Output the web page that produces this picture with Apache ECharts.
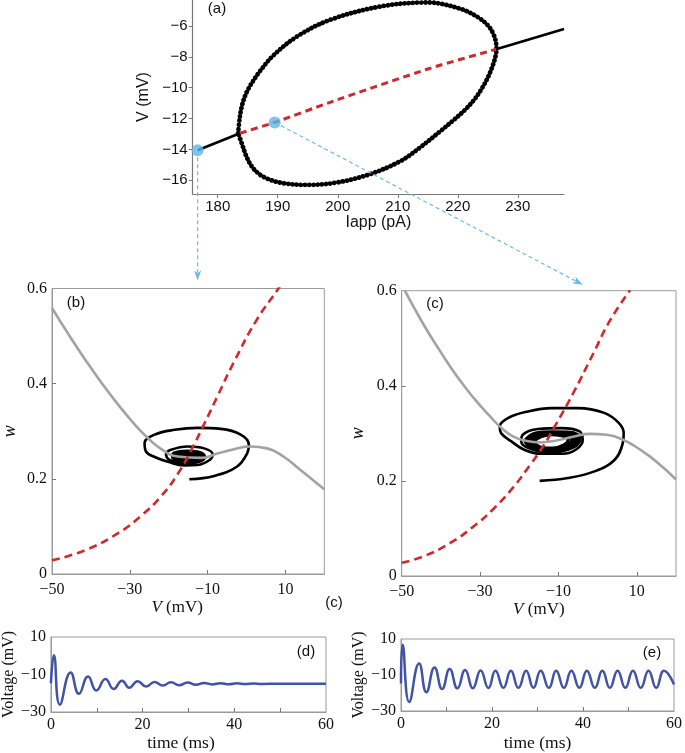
<!DOCTYPE html>
<html><head><meta charset="utf-8">
<script src="https://cdn.jsdelivr.net/npm/echarts@6.0.0/dist/echarts.min.js"></script>
<style>html,body{margin:0;padding:0;background:#fff}#c{width:685px;height:753px}</style>
</head><body><div id="c"></div>
<script>
// ---------- panel (a): bifurcation diagram ----------
const aXTicks = [180, 190, 200, 210, 220, 230];
const aYTicks = [-16, -14, -12, -10, -8, -6];
const aLimitCycle = [[183.4,-12.95],[183.65,-12.0],[184.05,-11.15],[184.7,-10.4],[185.6,-9.75],[187.0,-8.95],[189.3,-7.9],[193.2,-6.69],[198.7,-5.61],[207,-4.75],[215,-4.48],[220.5,-4.9],[223.6,-5.5],[225.3,-6.1],[226.2,-6.8],[226.45,-7.5],[226.2,-8.1],[225.7,-8.7],[225.0,-9.35],[224.1,-10.0],[222.9,-10.7],[221.3,-11.4],[219.3,-12.1],[217.0,-12.85],[213.8,-13.85],[210.5,-14.75],[205.4,-15.6],[199.8,-16.15],[194.8,-16.3],[190.4,-16.15],[187.6,-15.77],[185.9,-15.22],[184.8,-14.47],[184.0,-13.6],[183.4,-12.95]];
const aStableLeft = [[176.65,-14.05],[183.7,-12.95]];
const aUnstable = [[183.7,-12.95],[189.5,-12.25],[198.7,-10.95],[215.4,-8.74],[226.4,-7.51]];
const aStableRight = [[226.4,-7.51],[237.7,-6.2]];
const aDots = [[176.65,-14.05],[189.5,-12.25]];

// ---------- panels (b),(c): phase planes ----------
const pvXLabels = [-50, -30, -10, 10];
const pvXTicks = [-30, -10, 10];
const pvYTicks = [0, 0.2, 0.4, 0.6];

const bVNull = [[-50,0.559],[-45.7,0.503],[-41.5,0.451],[-37.2,0.401],[-33,0.356],[-28.7,0.314],[-25.5,0.287],[-22,0.263],[-17.7,0.247],[-11.7,0.244],[-7.5,0.253],[-3.2,0.262],[1.0,0.268],[5.3,0.264],[9.5,0.247],[13.8,0.219],[20,0.178]];
const bWNull = [[-50,0.029],[-41.5,0.05],[-33,0.086],[-27,0.123],[-21.9,0.164],[-17.7,0.210],[-14.3,0.259],[-10.9,0.315],[-7.5,0.373],[-3.2,0.446],[2.7,0.535],[8.2,0.6],[8.6,0.606]];
const bSpiral = [[-14.7,0.199],[-8.3,0.206],[-2.4,0.226],[0.2,0.254],[0.6,0.272],[-1.5,0.293],[-6.6,0.305],[-12.6,0.307],[-18.5,0.303],[-23.6,0.293],[-26.2,0.275],[-25.8,0.257],[-23.6,0.246],[-20.2,0.236],[-16.0,0.228],[-12.6,0.229],[-9.4,0.240],[-8.7,0.252],[-10.9,0.264],[-15.1,0.268],[-19.4,0.261],[-20.7,0.252],[-19.8,0.240],[-16.0,0.233]];
const bCore = [[-16.0,0.233],[-12.4,0.236],[-10.8,0.246],[-12.0,0.255],[-15.2,0.258],[-18.6,0.254],[-19.0,0.246],[-17.5,0.238],[-15.2,0.236],[-12.2,0.240],[-11.6,0.247],[-13.3,0.2535],[-16.3,0.2545],[-18.2,0.249],[-17.4,0.2405],[-15.0,0.2385],[-12.7,0.242],[-12.6,0.248],[-14.2,0.252],[-16.6,0.252],[-17.4,0.247],[-16.3,0.241],[-14.2,0.2405],[-13.4,0.244],[-14.0,0.249],[-15.8,0.250],[-16.6,0.246],[-15.6,0.242],[-14.4,0.243],[-14.5,0.247],[-15.6,0.248],[-15.9,0.245],[-15.3,0.244],[-15.1,0.246]];

const cVNull = [[-49.2,0.6],[-44.5,0.530],[-40.2,0.473],[-36,0.421],[-31.7,0.375],[-27.5,0.336],[-24.5,0.311],[-21.5,0.293],[-18.1,0.284],[-14.7,0.281],[-10.5,0.285],[-6.2,0.293],[-2,0.299],[2.3,0.297],[6.6,0.286],[10.8,0.266],[15.1,0.240],[20,0.203]];
const cWNull = [[-50,0.028],[-44.5,0.041],[-37.7,0.069],[-31.7,0.104],[-26.6,0.141],[-21.5,0.187],[-17.3,0.233],[-13.9,0.273],[-10.5,0.321],[-6.2,0.385],[-1.1,0.468],[3.2,0.538],[8.3,0.601]];
const cSpiral = [[-14.8,0.200],[-7.6,0.206],[-0.8,0.220],[4.3,0.244],[6.4,0.279],[6.65,0.300],[5.5,0.321],[1.7,0.343],[-5.1,0.353],[-11.8,0.353],[-17.8,0.346],[-22.9,0.332],[-25.0,0.314],[-24.6,0.300],[-22.0,0.283],[-18.6,0.265],[-14.4,0.257],[-9.0,0.257],[-5.5,0.266],[-3.8,0.286],[-4.6,0.304],[-9.3,0.311],[-15.2,0.309],[-19.1,0.297],[-19.5,0.283],[-17.3,0.268],[-12.0,0.261],[-6.5,0.270],[-4.5,0.290]];
const cRing1 = [[-18.5,0.284],[-16.0,0.299],[-11.5,0.302],[-7.0,0.301],[-4.5,0.290],[-6.2,0.272],[-11.8,0.262],[-16.5,0.268],[-18.5,0.284]];
const cRing2 = [[-17.7,0.284],[-15.4,0.297],[-11.6,0.3005],[-7.6,0.299],[-5.5,0.289],[-7.0,0.273],[-11.7,0.264],[-15.8,0.269],[-17.7,0.284]];
const cRing3 = [[-17.0,0.284],[-14.8,0.295],[-11.7,0.299],[-8.4,0.297],[-6.5,0.288],[-7.8,0.274],[-11.6,0.266],[-15.1,0.270],[-17.0,0.284]];
const cRing4 = [[-16.4,0.283],[-14.3,0.293],[-11.8,0.297],[-9.2,0.295],[-7.5,0.287],[-8.6,0.276],[-11.5,0.269],[-14.5,0.271],[-16.4,0.283]];

// ---------- panels (d),(e): voltage traces ----------
const tsXLabels = [0, 20, 40, 60];
const tsXTicks = [10, 20, 30, 40, 50];
const tsYLabels = [-30, -10, 10];
const dTime = [0,0.65,1.95,4.3,6.1,8.1,9.9,11.9,13.7,15.5,17.1,18.9,20.8,22.6,24.4,26.2,28.0,29.8,31.6,33.4,35.2,37.0,38.8,40.6,42.4,44.2,46.0,50,55,60];
const dVolt = [-14.7,0.3,-26.1,-8.9,-20.3,-11.1,-18.5,-12.4,-17.7,-13.3,-17.0,-13.6,-16.4,-14.0,-15.9,-14.1,-15.7,-14.3,-15.5,-14.5,-15.3,-14.6,-15.2,-14.7,-15.1,-14.8,-15.0,-14.9,-14.9,-14.9];
const eTime = [0,0.36,1.81,3.98,5.57,7.37,9.04,10.7,12.4,14.1,15.8,17.5,19.2,20.75,22.5,24.15,25.8,27.5,29.1,30.7,32.5,34.1,35.8,37.45,39.2,40.85,42.6,44.25,45.9,47.6,49.3,50.97,52.7,54.4,56.1,57.8,60];
const eVolt = [-14.75,6.8,-25.0,-3.6,-19.6,-5.8,-17.8,-6.7,-17.4,-7.2,-17.3,-7.5,-17.2,-7.6,-17.1,-7.6,-17.1,-7.6,-17.1,-7.6,-17.1,-7.6,-17.1,-7.6,-17.1,-7.6,-17.1,-7.6,-17.1,-7.6,-17.1,-7.6,-17.1,-7.6,-17.1,-7.6,-15.3];

// ---------- styling ----------
const SANS = '"Liberation Sans", Arial, sans-serif';
const SERIF = '"Liberation Serif", "Times New Roman", serif';
const INK = '#111';
const BOX = '#9a9a9a';
const RED = '#d3282b';
const GRAY = '#a3a3a3';
const BLUE = '#4152a8';
const LIGHTBLUE = '#6db9ea';
const minus = v => (v < 0 ? '\u2212' + Math.abs(v) : String(v));
const zip = (xs, ys) => xs.map((x, i) => [x, ys[i]]);

function serifLabel(values, margin, fmt) {
  return { customValues: values, fontFamily: SERIF, fontSize: 16, color: INK, margin: margin, formatter: fmt || minus };
}
function pvXAxis(gi, gap, pad) {
  return {
    gridIndex: gi, type: 'value', min: -50, max: 20,
    axisLine: { show: true, onZero: false, lineStyle: { color: BOX, width: 1 } },
    axisTick: { show: true, inside: true, length: 4, customValues: pvXTicks, lineStyle: { color: '#777' } },
    axisLabel: serifLabel(pvXLabels, 8),
    splitLine: { show: false },
    name: '{i|V} (mV)', nameLocation: 'middle', nameGap: gap,
    nameTextStyle: { fontFamily: SERIF, fontSize: 17, color: INK, padding: pad,
      rich: { i: { fontFamily: SERIF, fontSize: 17, fontStyle: 'italic', color: INK } } }
  };
}
function pvYAxis(gi, gap) {
  return {
    gridIndex: gi, type: 'value', min: 0, max: 0.6,
    axisLine: { show: true, onZero: false, lineStyle: { color: BOX, width: 1 } },
    axisTick: { show: true, inside: true, length: 4, customValues: [0.2, 0.4], lineStyle: { color: '#777' } },
    axisLabel: serifLabel(pvYTicks, 5, v => (v === 0 ? '0' : v.toFixed(1))),
    splitLine: { show: false },
    name: 'w', nameLocation: 'middle', nameGap: gap,
    nameTextStyle: { fontFamily: SERIF, fontSize: 18, fontStyle: 'italic', color: INK }
  };
}
function tsXAxis(gi, gap, pad) {
  return {
    gridIndex: gi, type: 'value', min: 0, max: 60,
    axisLine: { show: true, onZero: false, lineStyle: { color: BOX, width: 1 } },
    axisTick: { show: true, inside: true, length: 4, customValues: tsXTicks, lineStyle: { color: '#777' } },
    axisLabel: serifLabel(tsXLabels, 5),
    splitLine: { show: false },
    name: 'time (ms)', nameLocation: 'middle', nameGap: gap,
    nameTextStyle: { fontFamily: SERIF, fontSize: 17.5, color: INK, padding: pad }
  };
}
function tsYAxis(gi, gap) {
  return {
    gridIndex: gi, type: 'value', min: -30, max: 10,
    axisLine: { show: true, onZero: false, lineStyle: { color: BOX, width: 1 } },
    axisTick: { show: false },
    axisLabel: serifLabel(tsYLabels, 5),
    splitLine: { show: false },
    name: 'Voltage (mV)', nameLocation: 'middle', nameGap: gap,
    nameTextStyle: { fontFamily: SERIF, fontSize: 16, color: INK }
  };
}
function curve(xi, data, color, width, extra) {
  return Object.assign({
    type: 'line', xAxisIndex: xi, yAxisIndex: xi, data: data,
    symbol: 'none', showSymbol: false, smooth: 0.35, silent: true,
    lineStyle: { color: color, width: width }
  }, extra || {});
}

const option = {
  animation: false,
  backgroundColor: '#fff',
  grid: [
    { left: 192.7, top: 0, width: 371.3, height: 194 },
    { left: 50, top: 288.5, width: 274.3, height: 285.5, show: true, borderColor: BOX, borderWidth: 1 },
    { left: 401.7, top: 290.7, width: 274.3, height: 285.3, show: true, borderColor: BOX, borderWidth: 1 },
    { left: 49.3, top: 637, width: 276.7, height: 75.3, show: true, borderColor: BOX, borderWidth: 1 },
    { left: 401, top: 639, width: 277.3, height: 74.3, show: true, borderColor: BOX, borderWidth: 1 }
  ],
  xAxis: [
    {
      gridIndex: 0, type: 'value', min: 175.83, max: 237.7,
      axisLine: { show: true, onZero: false, lineStyle: { color: '#777', width: 1.2 } },
      axisTick: { show: true, inside: false, length: 4, customValues: aXTicks, lineStyle: { color: '#777' } },
      axisLabel: { customValues: aXTicks, fontFamily: SANS, fontSize: 15, color: INK, margin: 5, formatter: minus },
      splitLine: { show: false },
      name: 'Iapp (pA)', nameLocation: 'middle', nameGap: 19,
      nameTextStyle: { fontFamily: SANS, fontSize: 16, color: INK }
    },
    pvXAxis(1, 24, [0, 22, 0, 0]),
    pvXAxis(2, 22, [0, 0, 0, 0]),
    tsXAxis(3, 22, [0, 15, 0, 0]),
    tsXAxis(4, 23, [0, 0, 0, 0])
  ],
  yAxis: [
    {
      gridIndex: 0, type: 'value', min: -16.89, max: -4.32,
      axisLine: { show: true, onZero: false, lineStyle: { color: '#777', width: 1.2 } },
      axisTick: { show: true, inside: false, length: 4, customValues: aYTicks, lineStyle: { color: '#777' } },
      axisLabel: { customValues: aYTicks, fontFamily: SANS, fontSize: 15, color: INK, margin: 5, formatter: minus },
      splitLine: { show: false },
      name: 'V (mV)', nameLocation: 'middle', nameGap: 29,
      nameTextStyle: { fontFamily: SANS, fontSize: 16, color: INK }
    },
    pvYAxis(1, 33),
    pvYAxis(2, 34),
    tsYAxis(3, 33),
    tsYAxis(4, 32)
  ],
  series: [
    // (a)
    curve(0, aLimitCycle, '#000', 4.8, { smooth: 0.35, z: 3, lineStyle: { color: '#000', width: 4.8, type: [0.01, 4.2], cap: 'round' } }),
    curve(0, aStableLeft, '#000', 2.6, { smooth: false, z: 4 }),
    curve(0, aUnstable, RED, 3, { smooth: 0.2, z: 4, lineStyle: { color: RED, width: 3, type: [7, 4.5] } }),
    curve(0, aStableRight, '#000', 2.6, { smooth: false, z: 4 }),
    { type: 'scatter', xAxisIndex: 0, yAxisIndex: 0, data: aDots, symbol: 'circle', symbolSize: 12,
      itemStyle: { color: '#5fb4ea' }, z: 10, silent: true },
    // (b)
    curve(1, bSpiral, '#000', 2.6, { z: 2, smooth: 0.4 }),
    curve(1, bCore, '#000', 3.4, { z: 2, smooth: 0.4 }),
    curve(1, bVNull, GRAY, 2.6, { z: 3, smooth: 0.5 }),
    curve(1, bWNull, RED, 2.6, { z: 4, smooth: 0.5, lineStyle: { color: RED, width: 2.6, type: [8, 5] } }),
    // (c)
    curve(2, cSpiral, '#000', 2.6, { z: 2, smooth: 0.4 }),
    curve(2, cRing1, '#000', 4.2, { z: 2, smooth: 0.4 }),
    curve(2, cRing2, '#000', 4.2, { z: 2, smooth: 0.4 }),
    curve(2, cRing3, '#000', 4.2, { z: 2, smooth: 0.4 }),
    curve(2, cRing4, '#000', 3, { z: 2, smooth: 0.4 }),
    curve(2, cVNull, GRAY, 2.6, { z: 3, smooth: 0.5 }),
    curve(2, cWNull, RED, 2.6, { z: 4, smooth: 0.5, lineStyle: { color: RED, width: 2.6, type: [8, 5] } }),
    // (d),(e)
    curve(3, zip(dTime, dVolt), BLUE, 2.5, { smooth: 0.5 }),
    curve(4, zip(eTime, eVolt), BLUE, 2.5, { smooth: 0.5 })
  ]
};

const chart = echarts.init(document.getElementById('c'), null, { renderer: 'canvas' });
chart.setOption(option);

// ---------- annotations: panel letters and arrows ----------
function label(text, x, y) {
  return { type: 'text', x: x, y: y, silent: true, z: 100,
    style: { text: text, fontFamily: SANS, fontSize: 15, fill: INK, align: 'center', verticalAlign: 'middle' } };
}
function arrow(start, tip) {
  const dx = tip[0] - start[0], dy = tip[1] - start[1];
  const L = Math.sqrt(dx * dx + dy * dy);
  const ux = dx / L, uy = dy / L, px = -uy, py = ux;
  const headLen = 10, headHalf = 3.6;
  const bx = tip[0] - ux * headLen, by = tip[1] - uy * headLen;
  return [
    { type: 'line', silent: true, z: 90,
      shape: { x1: start[0] + ux * 7, y1: start[1] + uy * 7, x2: bx + ux * 2, y2: by + uy * 2 },
      style: { stroke: LIGHTBLUE, lineWidth: 1.2, lineDash: [4, 3] } },
    { type: 'polygon', silent: true, z: 90,
      shape: { points: [[tip[0], tip[1]], [bx + px * headHalf, by + py * headHalf], [bx + ux * 2.5, by + uy * 2.5], [bx - px * headHalf, by - py * headHalf]] },
      style: { fill: LIGHTBLUE } }
  ];
}
const d1 = chart.convertToPixel({ xAxisIndex: 0, yAxisIndex: 0 }, aDots[0]);
const d2 = chart.convertToPixel({ xAxisIndex: 0, yAxisIndex: 0 }, aDots[1]);
const bTop = chart.convertToPixel({ xAxisIndex: 1, yAxisIndex: 1 }, [-50, 0.6])[1];
const tip1 = [d1[0], bTop - 8];
const tip2 = chart.convertToPixel({ xAxisIndex: 2, yAxisIndex: 2 }, [-3.8, 0.6]);
tip2[1] -= 6;

chart.setOption({
  graphic: [
    label('(a)', 217, 9),
    label('(b)', 76, 303),
    label('(c)', 435, 304),
    label('(c)', 334, 603),
    label('(d)', 306, 652),
    label('(e)', 652, 653)
  ].concat(arrow(d1, tip1), arrow(d2, tip2))
});
</script></body></html>
